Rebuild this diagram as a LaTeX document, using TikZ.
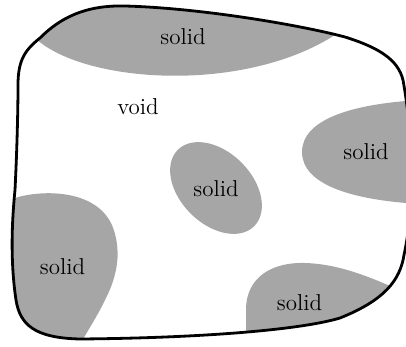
\documentclass[tikz,border=0pt]{standalone}
\begin{document}
\begin{tikzpicture}[x=0.5pt,y=-0.5pt,
  solidfill/.style={fill=black!35},
  lbl/.style={inner sep=0pt,font=\fontsize{11.5}{13}\selectfont}]
\useasboundingbox (0,0) rectangle (406,347);
\clip (0,0) rectangle (406,347);
\def\outlinepath{(18,85) .. controls (18,60) and (25,50) .. (40,38)
  .. controls (60,18) and (85,5) .. (125,6)
  .. controls (200,8) and (300,25) .. (345,37)
  .. controls (380,48) and (398,60) .. (403,80)
  .. controls (412,130) and (416,200) .. (404,255)
  .. controls (400,280) and (385,300) .. (340,318)
  .. controls (300,330) and (200,338) .. (80,339)
  .. controls (35,338) and (20,325) .. (16,300)
  .. controls (10,260) and (12,220) .. (15,190)
  .. controls (17,150) and (18,110) .. (18,85) -- cycle}
\begin{scope}
  \clip \outlinepath;
  % top solid
  \fill[solidfill] (35,38) .. controls (85,85) and (255,95) .. (345,28) -- (345,-10) -- (35,-10) -- cycle;
  % middle ellipse
  \fill[solidfill, rotate around={-45:(216,188)}] (216,188) ellipse [x radius=54, y radius=36];
  % right solid
  \fill[solidfill] (302,152) .. controls (302,120) and (350,104) .. (420,100)
    -- (420,204) .. controls (350,200) and (302,184) .. (302,152) -- cycle;
  % bottom-left solid
  \fill[solidfill] (0,200) -- (15,198) .. controls (40,190) and (95,188) .. (112,225)
    .. controls (122,250) and (118,275) .. (105,300)
    .. controls (98,315) and (88,330) .. (78,348) -- (0,348) -- cycle;
  % bottom-right solid
  \fill[solidfill] (246,350) -- (246,310) .. controls (246,275) and (275,262) .. (305,263)
    .. controls (340,264) and (375,278) .. (420,300) -- (420,350) -- cycle;
\end{scope}
\draw[line width=1.4pt] \outlinepath;
\node[lbl] (t1) at (183,37) {solid};
\node[lbl] (v) at (138,107) {void};
\node[lbl] (t2) at (216,188.5) {solid};
\node[lbl] (t3) at (366,151.5) {solid};
\node[lbl] (t4) at (62.5,266.5) {solid};
\node[lbl] (t5) at (299.5,302.5) {solid};
\end{tikzpicture}
\end{document}
